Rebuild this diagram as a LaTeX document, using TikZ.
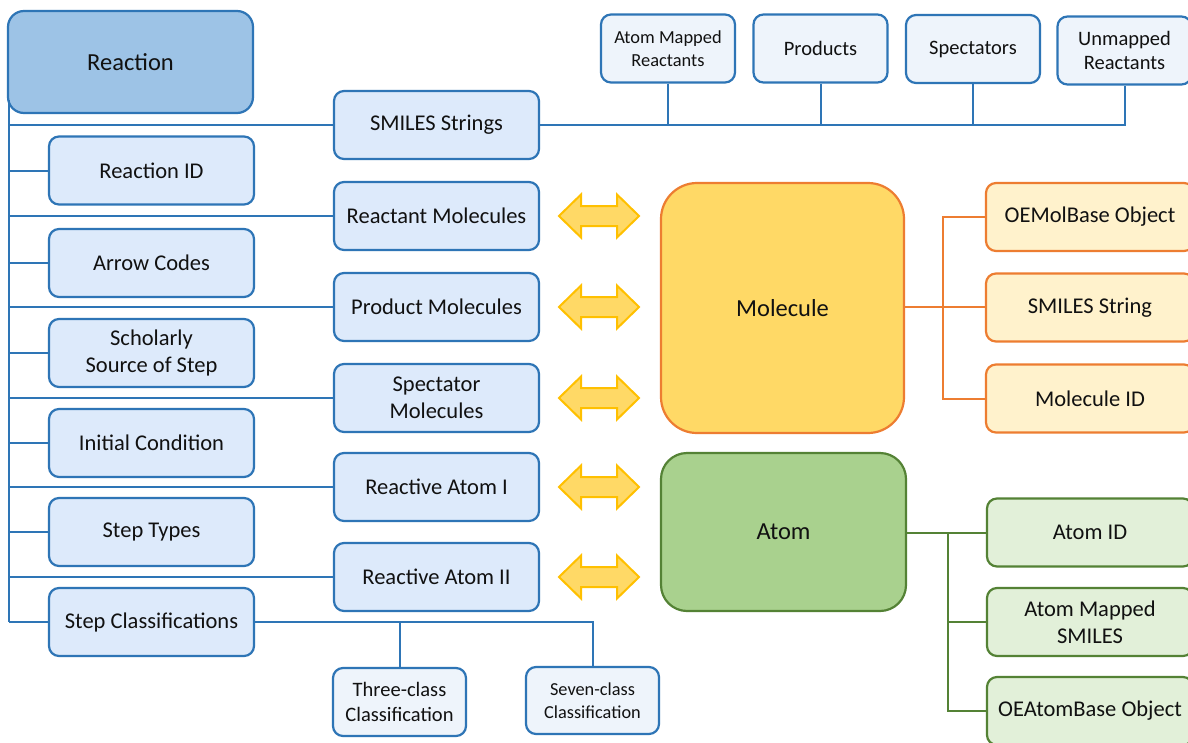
\documentclass[tikz,border=0pt]{standalone}
\usepackage{fontspec}
\setmainfont{Carlito}
\definecolor{blueline}{HTML}{2E75B6}
\definecolor{bluefill}{HTML}{DDEAFB}
\definecolor{paleblue}{HTML}{EEF4FB}
\definecolor{reactfill}{HTML}{9DC3E6}
\definecolor{orangeline}{HTML}{ED7D31}
\definecolor{molfill}{HTML}{FFD966}
\definecolor{orangefill}{HTML}{FFF2CC}
\definecolor{greenline}{HTML}{548235}
\definecolor{atomfill}{HTML}{A9D18E}
\definecolor{greenfill}{HTML}{E2F0D9}
\definecolor{arrowline}{HTML}{FFC000}
\definecolor{txt}{HTML}{111111}

\tikzset{
  base/.style={line width=2.2pt, align=center, inner sep=0pt, text=txt,
    font=\fontsize{22.5}{27}\selectfont},
  bluebox/.style={base, draw=blueline, fill=bluefill, rounded corners=10pt,
    minimum width=205pt, minimum height=68pt},
  topbox/.style={base, draw=blueline, fill=paleblue, rounded corners=10pt,
    minimum width=134pt, minimum height=68pt, font=\fontsize{20.5}{24}\selectfont},
  orangebox/.style={base, draw=orangeline, fill=orangefill, rounded corners=10pt,
    minimum width=208pt, minimum height=68pt},
  greenbox/.style={base, draw=greenline, fill=greenfill, rounded corners=10pt,
    minimum width=206pt, minimum height=68pt},
  bigbox/.style={base, font=\fontsize{24.5}{29}\selectfont},
  bluelink/.style={draw=blueline, line width=2pt},
  orangelink/.style={draw=orangeline, line width=2pt},
  greenlink/.style={draw=greenline, line width=2pt},
  dblarrow/.pic={
    \draw[line width=2pt, draw=arrowline, fill=molfill, line join=miter]
      (-40,0) -- (-18,-21.5) -- (-18,-10) -- (18,-10) -- (18,-21.5) -- (40,0)
      -- (18,21.5) -- (18,10) -- (-18,10) -- (-18,21.5) -- cycle;
  }
}

\begin{document}
\begin{tikzpicture}[x=1pt,y=-1pt]
\useasboundingbox (0,0) rectangle (1188,742);
\clip (0,0) rectangle (1188,742);
\fill[white] (0,0) rectangle (1188,742);

% root of the tree
\node[bigbox, draw=blueline, fill=reactfill, rounded corners=16pt,
      minimum width=245pt, minimum height=102pt] (reaction) at (130.5,62) {Reaction};

% left column
\node[bluebox] (reactid)   at (151.5,170.5) {Reaction ID};
\node[bluebox] (arrows)    at (151.5,263)   {Arrow Codes};
\node[bluebox] (scholar)   at (151.5,353)   {Scholarly\\Source of Step};
\node[bluebox] (initial)   at (151.5,443)   {Initial Condition};
\node[bluebox] (steptypes) at (151.5,532)   {Step Types};
\node[bluebox] (stepclass) at (151.5,622)   {Step Classifications};

% middle column
\node[bluebox] (smiles)   at (436.5,125) {SMILES Strings};
\node[bluebox] (reactmol) at (436.5,216) {Reactant Molecules};
\node[bluebox] (prodmol)  at (436.5,307) {Product Molecules};
\node[bluebox] (specmol)  at (436.5,398) {Spectator\\Molecules};
\node[bluebox] (ratomi)   at (436.5,487) {Reactive Atom I};
\node[bluebox] (ratomii)  at (436.5,577) {Reactive Atom II};

% SMILES string kinds
\node[topbox, font=\fontsize{18.4}{23}\selectfont] (amr) at (668,48.5) {Atom Mapped\\Reactants};
\node[topbox] (products)   at (820.5,48.5) {Products};
\node[topbox] (spectators) at (973,49)     {Spectators};
\node[topbox] (unmapped)   at (1124.5,50.5) {Unmapped\\Reactants};

% classification kinds
\node[topbox, minimum width=133pt, font=\fontsize{20.5}{25}\selectfont] (three) at (399.5,702) {Three-class\\Classification};
\node[topbox, minimum width=133pt, minimum height=67pt, font=\fontsize{18.3}{23}\selectfont] (seven) at (592.5,700.5) {Seven-class\\Classification};

% molecule and atom objects
\node[bigbox, draw=orangeline, fill=molfill, rounded corners=36pt,
      minimum width=243pt, minimum height=250pt] (molecule) at (782.5,308) {Molecule};
\node[bigbox, draw=greenline, fill=atomfill, rounded corners=26pt,
      minimum width=245pt, minimum height=158pt] (atom) at (783.5,532) {Atom};

\node[orangebox] (oemol)     at (1090,217)   {OEMolBase Object};
\node[orangebox] (smilesstr) at (1090,307.5) {SMILES String};
\node[orangebox] (molid)     at (1090,398.5) {Molecule ID};

\node[greenbox] (atomid)   at (1090,532.5) {Atom ID};
\node[greenbox] (amsmiles) at (1090,622)   {Atom Mapped\\SMILES};
\node[greenbox] (oeatom)   at (1090,711)   {OEAtomBase Object};

% two-way arrows between references and objects
\foreach \yy in {216,307,398,487,577}
  \pic at (599,\yy) {dblarrow};

% trunk of the reaction tree
\coordinate (trunk) at (9,100);
\draw[bluelink] (trunk) -- (trunk |- stepclass.west);
\foreach \n in {reactid,arrows,scholar,initial,steptypes,stepclass,
                smiles,reactmol,prodmol,specmol,ratomi,ratomii}
  \draw[bluelink] (trunk |- \n.west) -- (\n.west);

% SMILES branch
\draw[bluelink] (smiles.east) -| (unmapped.south);
\foreach \n in {amr,products,spectators}
  \draw[bluelink] (\n.south) -- (\n.south |- smiles.east);

% classification branch
\draw[bluelink] (stepclass.east) -| (seven.north);
\draw[bluelink] (three.north) -- (three.north |- stepclass.east);

% molecule branch
\coordinate (mj) at (943,307);
\draw[orangelink] (molecule.east |- mj) -- (smilesstr.west |- mj);
\draw[orangelink] (oemol.west) -| (mj) |- (molid.west);

% atom branch
\coordinate (aj) at (948,532.5);
\draw[greenlink] (atom.east |- aj) -- (atomid.west);
\draw[greenlink] (aj) |- (amsmiles.west);
\draw[greenlink] (aj) |- (oeatom.west);
\end{tikzpicture}
\end{document}
